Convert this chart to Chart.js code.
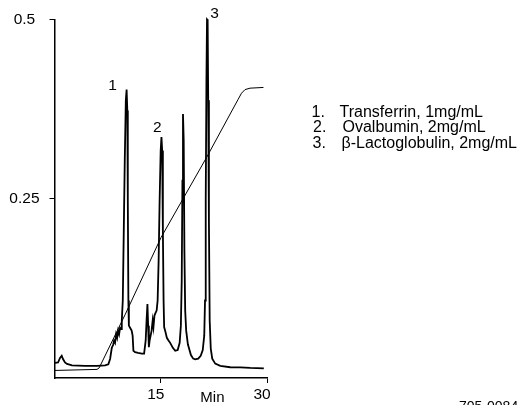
<!DOCTYPE html>
<html>
<head>
<meta charset="utf-8">
<script src="https://cdn.jsdelivr.net/npm/chart.js@4"></script>
<style>
  html, body { margin: 0; padding: 0; background: #fff; }
  #wrap { width: 519px; height: 405px; position: relative; }
</style>
</head>
<body>
<div id="wrap"><canvas id="chromChart"></canvas></div>
<script>
// Absorbance trace (time in min, absorbance)
const traceTime = [0.07, 0.5, 0.78, 1.02, 1.2, 1.48, 1.77, 2.47, 4.3, 6.0, 7.14, 7.6, 7.85, 8.09, 8.27, 8.41, 8.55, 8.7, 8.84, 8.98, 9.12, 9.26, 9.4, 9.5, 9.64, 9.78, 9.92, 10.07, 10.18, 10.28, 10.35, 10.43, 10.5, 10.67, 10.89, 11.03, 11.14, 11.38, 11.8, 12.33, 12.65, 12.87, 13.0, 13.12, 13.22, 13.32, 13.43, 13.57, 13.71, 13.86, 13.97, 14.11, 14.28, 14.42, 14.56, 14.7, 14.84, 14.99, 15.1, 15.2, 15.3, 15.4, 15.48, 15.62, 15.86, 16.12, 16.33, 16.71, 17.04, 17.39, 17.67, 17.84, 17.96, 18.06, 18.14, 18.24, 18.34, 18.45, 18.59, 18.83, 19.26, 19.58, 19.86, 20.29, 20.64, 20.93, 21.14, 21.25, 21.35, 21.45, 21.53, 21.62, 21.7, 21.8, 21.91, 22.06, 22.27, 22.69, 23.4, 24.81, 26.23, 27.64, 29.55];
const traceAbs = [0.021, 0.0216, 0.028, 0.031, 0.0265, 0.0216, 0.0196, 0.0175, 0.0168, 0.0168, 0.0175, 0.019, 0.0265, 0.042, 0.046, 0.052, 0.049, 0.061, 0.056, 0.066, 0.061, 0.070, 0.068, 0.080, 0.108, 0.205, 0.303, 0.387, 0.402, 0.373, 0.247, 0.108, 0.073, 0.070, 0.066, 0.059, 0.038, 0.036, 0.035, 0.034, 0.034, 0.052, 0.080, 0.103, 0.073, 0.043, 0.052, 0.059, 0.066, 0.080, 0.071, 0.087, 0.091, 0.094, 0.108, 0.163, 0.247, 0.317, 0.336, 0.317, 0.205, 0.108, 0.071, 0.066, 0.056, 0.052, 0.049, 0.042, 0.038, 0.039, 0.049, 0.073, 0.135, 0.275, 0.368, 0.331, 0.177, 0.094, 0.066, 0.047, 0.032, 0.027, 0.026, 0.027, 0.031, 0.039, 0.059, 0.108, 0.247, 0.415, 0.500, 0.499, 0.387, 0.219, 0.080, 0.041, 0.027, 0.020, 0.017, 0.015, 0.0147, 0.014, 0.0135];

// Gradient line
const gradTime = [0.0, 6.0, 6.3, 10.0, 15.05, 18.1, 21.5, 25.9, 26.4, 26.9, 27.6, 29.5];
const gradLevel = [0.0105, 0.012, 0.014, 0.089, 0.196, 0.249, 0.308, 0.388, 0.397, 0.402, 0.404, 0.405];

const xTicks = [15, 30];
const yTicks = [0.25, 0.5];

const peakNames = ["1", "2", "3"];
const peakLabelTime = [8.2, 14.52, 22.6];
const peakLabelAbs = [0.408, 0.349, 0.508];

const legendNums = ["1.", "2.", "3."];
const legendText = ["Transferrin, 1mg/mL", "Ovalbumin, 2mg/mL", "\u03B2-Lactoglobulin, 2mg/mL"];

const FONT = "'Liberation Sans', Arial, sans-serif";

const zip = (xs, ys) => xs.map((x, i) => ({ x: x, y: ys[i] }));

// Labels, legend and notes drawn on top
const textPlugin = {
  id: 'textPlugin',
  afterDraw(chart) {
    const ctx = chart.ctx;
    const xs = chart.scales.x, ys = chart.scales.y;
    ctx.save();
    ctx.fillStyle = '#000';
    ctx.font = '15.5px ' + FONT;
    ctx.textAlign = 'center';
    ctx.textBaseline = 'middle';
    peakNames.forEach((n, i) => {
      ctx.fillText(n, xs.getPixelForValue(peakLabelTime[i]), ys.getPixelForValue(peakLabelAbs[i]));
    });
    ctx.font = '15px ' + FONT;
    ctx.fillText('Min', xs.getPixelForValue(22.3), 398);

    ctx.font = '16px ' + FONT;
    ctx.textAlign = 'left';
    ctx.textBaseline = 'alphabetic';
    const numX = [311.5, 313, 312.5];
    const txtX = [339.5, 342.5, 341.5];
    legendText.forEach((t, i) => {
      const y = 116.5 + i * 15.8;
      ctx.fillText(legendNums[i], numX[i], y);
      ctx.fillText(t, txtX[i], y);
    });

    ctx.font = '14px ' + FONT;
    ctx.textBaseline = 'top';
    ctx.fillText('705-0084', 459, 400);
    ctx.restore();
  }
};

new Chart(document.getElementById('chromChart'), {
  type: 'line',
  data: {
    datasets: [
      {
        label: 'Absorbance',
        data: zip(traceTime, traceAbs),
        borderColor: '#000',
        borderWidth: 1.8,
        pointRadius: 0,
        tension: 0,
        clip: false
      },
      {
        label: 'Gradient',
        data: zip(gradTime, gradLevel),
        borderColor: '#000',
        borderWidth: 1,
        pointRadius: 0,
        tension: 0
      }
    ]
  },
  options: {
    responsive: true,
    maintainAspectRatio: false,
    animation: false,
    layout: { padding: { top: 19, right: 252, left: 0, bottom: 0 } },
    plugins: { legend: { display: false }, tooltip: { enabled: false } },
    scales: {
      x: {
        type: 'linear',
        min: 0,
        max: 30,
        afterBuildTicks: s => { s.ticks = xTicks.map(v => ({ value: v })); },
        afterFit: s => { s.height = 27; },
        grid: { drawOnChartArea: false, drawTicks: true, tickLength: 5, color: '#000', lineWidth: 1 },
        border: { color: '#000', width: 1.5 },
        ticks: {
          color: '#000',
          font: { family: FONT, size: 15.5 },
          padding: 2,
          labelOffset: -5,
          maxRotation: 0,
          callback: v => String(v)
        }
      },
      y: {
        min: 0,
        max: 0.5,
        afterBuildTicks: s => { s.ticks = yTicks.map(v => ({ value: v })); },
        afterFit: s => { s.width = 54.5; },
        grid: { drawOnChartArea: false, drawTicks: true, tickLength: 5, color: '#000', lineWidth: 1 },
        border: { color: '#000', width: 1.5 },
        ticks: {
          color: '#000',
          font: { family: FONT, size: 15.5 },
          crossAlign: 'center',
          padding: 10,
          callback: v => String(v)
        }
      }
    }
  },
  plugins: [textPlugin]
});
</script>
</body>
</html>
